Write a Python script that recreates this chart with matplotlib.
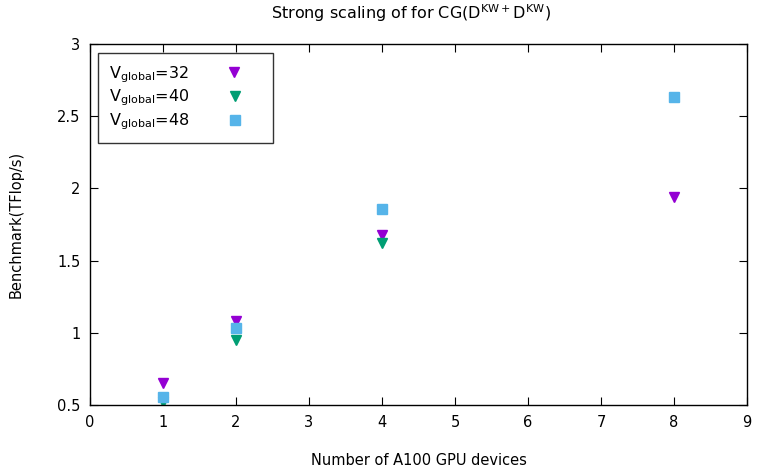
import matplotlib
matplotlib.use('Agg')
import matplotlib.pyplot as plt

plt.rcParams['mathtext.default'] = 'regular'
plt.rcParams['font.family'] = ['DejaVu Sans']

# GPU counts and benchmark values (TFlop/s)
gpus_32 = [1, 2, 4, 8]
tflops_32 = [0.65, 1.08, 1.68, 1.94]
gpus_40 = [1, 2, 4]
tflops_40 = [0.52, 0.95, 1.62]
gpus_48 = [1, 2, 4, 8]
tflops_48 = [0.555, 1.03, 1.86, 2.63]

fig = plt.figure(figsize=(7.59, 4.72), dpi=100)
ax = fig.add_axes([0.1186, 0.142, 0.8655, 0.765])

ax.plot(gpus_32, tflops_32, 'v', color='#9400D3', markersize=7, linestyle='none',
        label=r'V$_{global}$=32')
ax.plot(gpus_40, tflops_40, 'v', color='#009E73', markersize=7, linestyle='none',
        label=r'V$_{global}$=40')
ax.plot(gpus_48, tflops_48, 's', color='#56B4E9', markersize=7, linestyle='none',
        label=r'V$_{global}$=48')

ax.set_xlim(0, 9)
ax.set_ylim(0.5, 3)
ax.set_xticks(range(0, 10))
ax.set_yticks([0.5, 1, 1.5, 2, 2.5, 3])
ax.set_yticklabels(['0.5', '1', '1.5', '2', '2.5', '3'])
ax.tick_params(direction='in', top=True, right=True, length=6, labelsize=10.5, pad=7)
for s in ax.spines.values():
    s.set_linewidth(1.0)

ax.set_title(r'Strong scaling of for CG(D$^{KW+}$D$^{KW}$)', fontsize=11.5, pad=18, x=0.488)
ax.set_xlabel('Number of A100 GPU devices', fontsize=10.5, labelpad=17)
ax.set_ylabel('Benchmark(TFlop/s)', fontsize=10.5, labelpad=24)

leg = ax.legend(loc='upper left', markerfirst=False, fontsize=11.5, frameon=True,
                fancybox=False, edgecolor='black', borderpad=0.7, labelspacing=0.2,
                handletextpad=1.2, handlelength=3.3, borderaxespad=0,
                bbox_to_anchor=(0.012, 0.975))
leg.get_frame().set_linewidth(1.0)
# left-align the labels like the original
for col in leg._legend_handle_box.get_children():
    col.align = 'left'

fig.savefig('out.png', dpi=100)
